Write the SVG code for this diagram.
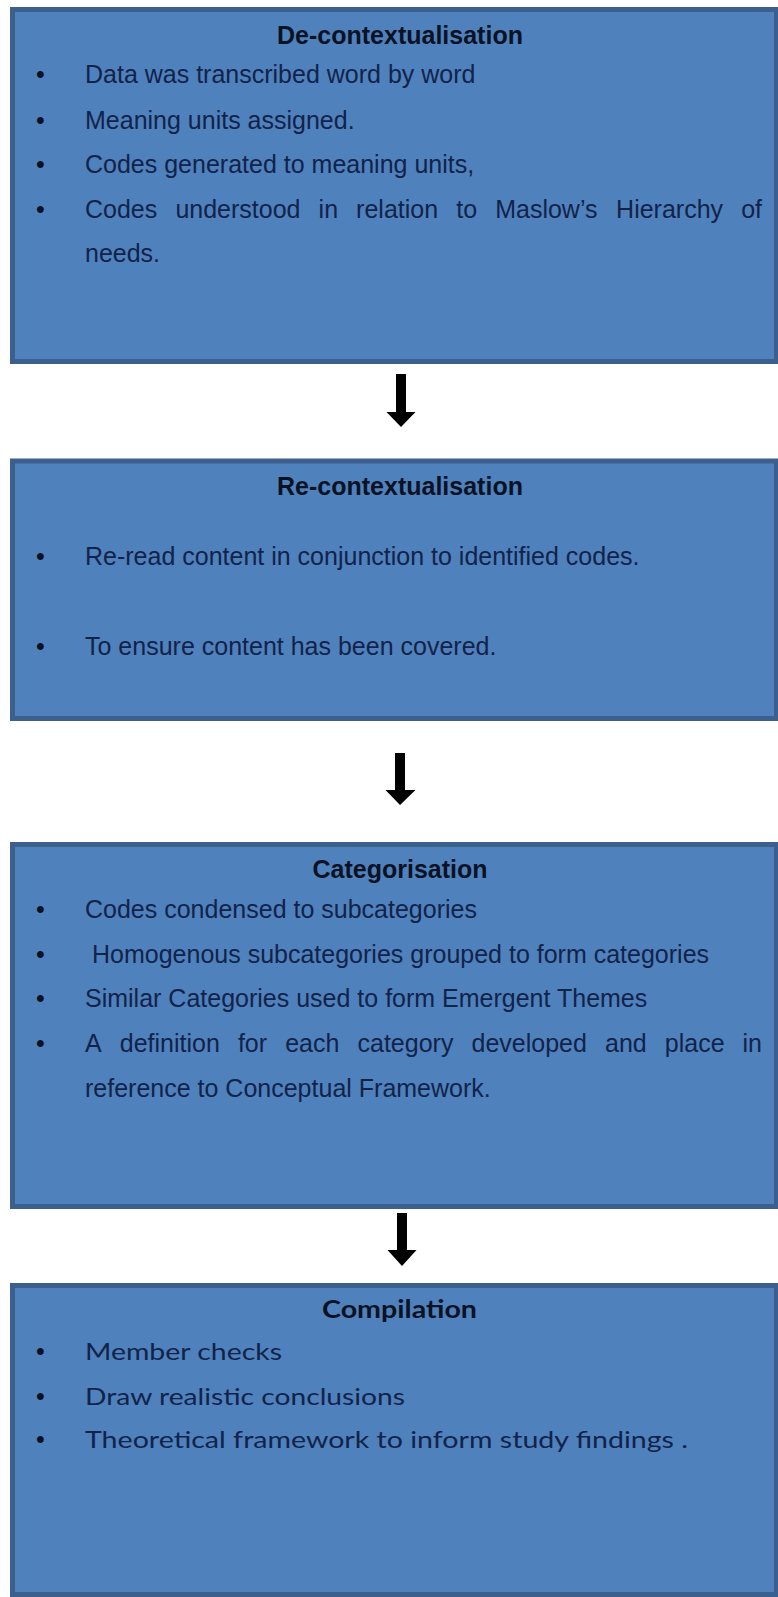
<svg xmlns="http://www.w3.org/2000/svg" width="778" height="1597" viewBox="0 0 778 1597">
<style>
.box{fill:#4f81bd;stroke:#3c5f8d;stroke-width:5}
.t{font-family:"Liberation Sans",Arial,sans-serif;font-size:25px;font-weight:bold;fill:#0a1224;text-anchor:middle}
.b{font-family:"Liberation Sans",Arial,sans-serif;font-size:25px;fill:#12234a}
.ct{font-family:Lato,"Open Sans",sans-serif;font-size:25px;font-weight:bold;fill:#0a1224}
.cb{font-family:Lato,"Open Sans",sans-serif;font-size:23px;fill:#12234a}
.dot{font-family:"Liberation Sans",Arial,sans-serif;font-size:25px;fill:#0a1224}
.arr{fill:#000}
</style>
<rect width="778" height="1597" fill="#ffffff"/>
<g id="decontextualisation">
<rect class="box" x="12.5" y="9.5" width="764" height="352"/>
<text class="t" x="400" y="44">De-contextualisation</text>
<text class="dot" x="36" y="83">•</text><text class="b" x="85" y="83">Data was transcribed word by word</text>
<text class="dot" x="36" y="129">•</text><text class="b" x="85" y="129">Meaning units assigned.</text>
<text class="dot" x="36" y="173">•</text><text class="b" x="85" y="173">Codes generated to meaning units,</text>
<text class="dot" x="36" y="218">•</text><text class="b" y="218"><tspan x="85">Codes</tspan> <tspan x="175.4">understood</tspan> <tspan x="318.6">in</tspan> <tspan x="356.1">relation</tspan> <tspan x="456.2">to</tspan> <tspan x="495.2">Maslow’s</tspan> <tspan x="616.1">Hierarchy</tspan> <tspan x="762" text-anchor="end">of</tspan></text>
<text class="b" x="85" y="262">needs.</text>
</g>
<g id="recontextualisation">
<rect class="box" x="12.5" y="461" width="764" height="257.5"/>
<text class="t" x="400" y="495">Re-contextualisation</text>
<text class="dot" x="36" y="565">•</text><text class="b" x="85" y="565">Re-read content in conjunction to identified codes.</text>
<text class="dot" x="36" y="655">•</text><text class="b" x="85" y="655">To ensure content has been covered.</text>
</g>
<g id="categorisation">
<rect class="box" x="12.5" y="844.5" width="764" height="362"/>
<text class="t" x="400" y="878">Categorisation</text>
<text class="dot" x="36" y="918">•</text><text class="b" x="85" y="918">Codes condensed to subcategories</text>
<text class="dot" x="36" y="963">•</text><text class="b" x="92" y="963">Homogenous subcategories grouped to form categories</text>
<text class="dot" x="36" y="1007">•</text><text class="b" x="85" y="1007">Similar Categories used to form Emergent Themes</text>
<text class="dot" x="36" y="1052">•</text><text class="b" y="1052"><tspan x="85">A</tspan> <tspan x="119.8">definition</tspan> <tspan x="237.9">for</tspan> <tspan x="285.2">each</tspan> <tspan x="357.5">category</tspan> <tspan x="471.5">developed</tspan> <tspan x="605">and</tspan> <tspan x="664.8">place</tspan> <tspan x="762" text-anchor="end">in</tspan></text>
<text class="b" x="85" y="1097">reference to Conceptual Framework.</text>
</g>
<g id="compilation">
<rect class="box" x="12.5" y="1285.5" width="764" height="309"/>
<text class="ct" x="322" y="1318" textLength="155" lengthAdjust="spacingAndGlyphs">Compilation</text>
<text class="dot" x="36" y="1360">•</text><text class="cb" x="85" y="1360" textLength="197" lengthAdjust="spacingAndGlyphs">Member checks</text>
<text class="dot" x="36" y="1405">•</text><text class="cb" x="85" y="1405" textLength="320" lengthAdjust="spacingAndGlyphs">Draw realistic conclusions</text>
<text class="dot" x="36" y="1448">•</text><text class="cb" x="85" y="1448" textLength="603" lengthAdjust="spacingAndGlyphs">Theoretical framework to inform study findings .</text>
</g>
<g id="connectors">
<path class="arr" d="M396,374 H406 V412 H415.5 L401,427 L386.5,412 H396 Z"/>
<path class="arr" d="M395,753 H405 V790 H415.5 L400,805 L385.5,790 H395 Z"/>
<path class="arr" d="M397,1213 H407 V1250 H416.5 L402,1266 L387.5,1250 H397 Z"/>
</g>
</svg>
